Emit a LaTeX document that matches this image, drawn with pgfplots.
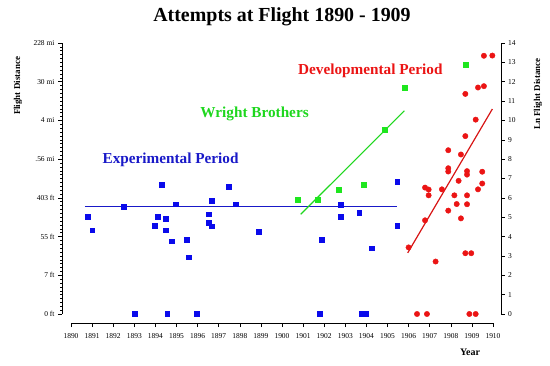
\documentclass[border=0pt]{standalone}
\usepackage{pgfplots}
\pgfplotsset{compat=1.18}
\usepackage{pgfplotstable}
\usepackage{fontspec}
\setmainfont{Liberation Serif}
\definecolor{cblue}{RGB}{10,10,235}
\definecolor{lblue}{RGB}{25,25,200}
\definecolor{cgreen}{RGB}{30,230,30}
\definecolor{lgreen}{RGB}{30,215,30}
\definecolor{cred}{RGB}{235,20,20}
\definecolor{lred}{RGB}{215,20,20}

\pgfplotstableread{
x y
1890.79 5.04
1891.00 4.33
1892.48 5.53
1894.30 6.67
1894.09 5.04
1894.49 4.94
1893.97 4.56
1894.49 4.33
1894.77 3.76
1894.98 5.67
1895.50 3.85
1895.58 2.93
1896.51 5.16
1896.51 4.70
1896.67 4.54
1896.67 5.84
1897.47 6.58
1897.79 5.67
1898.88 4.25
1901.90 3.85
1902.78 5.65
1902.78 5.04
1903.66 5.22
1904.27 3.40
1905.46 6.82
1905.46 4.56
1893.00 0
1894.56 0
1895.97 0
1901.77 0
1903.79 0
1903.98 0
}\blueT

\pgfplotstableread{
x y
1900.76 5.91
1901.69 5.91
1902.70 6.44
1903.87 6.70
1904.88 9.52
1905.80 11.70
1908.69 12.89
}\greenT

\pgfplotstableread{
x y
1906.00 3.44
1906.78 6.53
1906.95 6.43
1906.95 6.13
1906.78 4.84
1907.28 2.71
1907.58 6.44
1907.88 8.46
1907.88 7.53
1907.88 7.36
1907.88 5.34
1908.17 6.13
1908.28 5.68
1908.37 6.88
1908.48 4.94
1908.48 8.24
1908.69 11.37
1908.69 9.19
1908.77 7.38
1908.77 7.20
1908.77 6.13
1908.77 5.67
1908.69 3.14
1908.97 3.14
1909.18 10.04
1909.29 6.44
1909.29 11.70
1909.57 11.77
1909.49 7.35
1909.49 6.74
1909.57 13.34
1909.97 13.35
1906.40 0
1906.87 0
1908.88 0
1909.18 0
}\redT

\begin{document}
\begin{tikzpicture}
\useasboundingbox (-62bp,-43bp) rectangle (488bp,323bp);
\begin{axis}[
  scale only axis, width=439bp, height=280bp,
  xmin=1889.573, xmax=1910.38, ymin=-0.465, ymax=14,
  axis lines*=left, axis line style={draw=none},
  clip=false,
  tick align=outside,
  major tick length=4bp, minor tick length=2bp,
  xtick={1890,1891,...,1910}, minor x tick num=1,
  ytick={0,2,...,14}, minor y tick num=9,
  yticklabels={0 ft,7 ft,55 ft,403 ft,.56 mi,4 mi,30 mi,228 mi},
  /pgf/number format/1000 sep={},
  /pgf/number format/assume math mode=true,
  tick label style={font=\fontsize{7.5}{9}\selectfont},
  xticklabel style={yshift=-3bp},
  tick style={black, line width=0.5pt},
]
\draw[black, line width=0.7pt] (axis cs:1890,-0.465) -- (axis cs:1910,-0.465);
\draw[black, line width=0.7pt] (axis cs:1889.573,0) -- (axis cs:1889.573,14);

\addplot[only marks, mark=square*, mark size=2.4bp, mark options={fill=cblue, draw=cblue}] table {\blueT};
\addplot[only marks, mark=square*, mark size=2.4bp, mark options={fill=cgreen, draw=cgreen}] table {\greenT};
\addplot[only marks, mark=*, mark size=2.7bp, mark options={fill=cred, draw=cred}] table {\redT};

\addplot[lblue, line width=1.2pt, no marks] coordinates {(1890.66,5.55) (1905.46,5.55)};
\addplot[lgreen, line width=1.2pt, no marks] coordinates {(1900.89,5.15) (1905.80,10.50)};
\addplot[lred, line width=1.2pt, no marks] coordinates {(1905.96,3.16) (1909.97,10.59)};

\node[font=\fontsize{15.3}{17}\selectfont\bfseries, text=lblue] at (axis cs:1894.72,7.95) {Experimental Period};
\node[font=\fontsize{15.3}{17}\selectfont\bfseries, text=lgreen] at (axis cs:1898.70,10.32) {Wright Brothers};
\node[font=\fontsize{15.3}{17}\selectfont\bfseries, text=cred] at (axis cs:1904.19,12.56) {Developmental Period};

\node[font=\fontsize{20}{22}\selectfont\bfseries] at (axis cs:1900.0,15.36) {Attempts at Flight 1890 - 1909};
\node[font=\fontsize{9}{11}\selectfont\bfseries, rotate=90] at (axis cs:1887.49,11.78) {Flight Distance};
\node[font=\fontsize{9}{11}\selectfont\bfseries, rotate=90] at (axis cs:1912.13,11.36) {Ln Flight Distance};
\node[font=\fontsize{10}{12}\selectfont\bfseries] at (axis cs:1908.91,-2.0) {Year};
\end{axis}
\begin{axis}[
  scale only axis, width=439bp, height=280bp,
  xmin=1889.573, xmax=1910.38, ymin=-0.465, ymax=14,
  axis y line*=right, axis x line=none, axis line style={draw=none},
  tick align=outside,
  major tick length=3.5bp,
  ytick={0,1,...,14},
  /pgf/number format/assume math mode=true,
  tick label style={font=\fontsize{7.5}{9}\selectfont},
  tick style={black, line width=0.5pt},
  clip=false,
]
\draw[black, line width=0.7pt] (axis cs:1910.38,0) -- (axis cs:1910.38,14);
\end{axis}
\end{tikzpicture}
\end{document}
